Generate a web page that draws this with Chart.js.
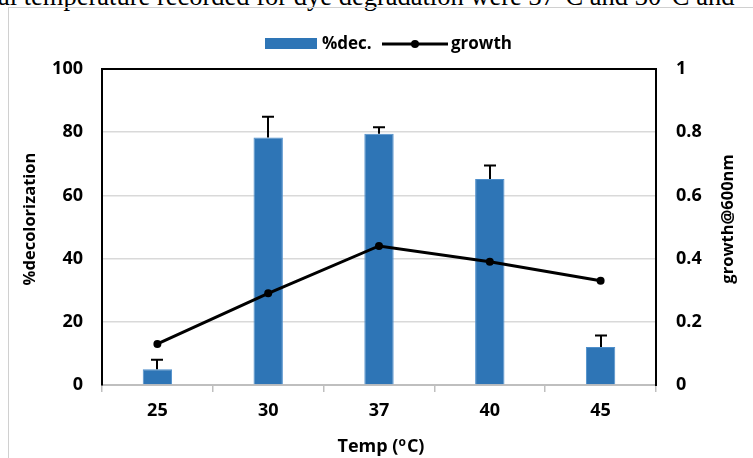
<!DOCTYPE html>
<html>
<head>
<meta charset="utf-8">
<script src="https://cdn.jsdelivr.net/npm/chart.js@4/dist/chart.umd.min.js"></script>
<style>
  html, body { margin: 0; padding: 0; background: #fff; overflow: hidden; width: 753px; height: 458px; }
  #frame { position: absolute; left: 8px; top: 7px; width: 900px; height: 600px; border-left: 1px solid #d0d0d0; border-top: 1px solid #d0d0d0; }
  #txt { position: absolute; left: -2px; top: -16px; font-family: "Liberation Serif", serif; font-size: 26.5px; line-height: 25px; white-space: nowrap; color: #000; }
  #c { position: absolute; left: 0; top: 0; }
</style>
</head>
<body>
<div id="txt">al temperature recorded for dye degradation were 37°C and 30°C and</div>
<div id="frame"></div>
<canvas id="c" width="753" height="458"></canvas>
<script>
const categories = ["25", "30", "37", "40", "45"];
const decolorization = [5.0, 78.3, 79.5, 65.2, 12.0];
const decolorizationErr = [3.0, 6.6, 2.1, 4.3, 3.7];
const growth = [0.13, 0.29, 0.44, 0.39, 0.33];
const leftTicks = [0, 20, 40, 60, 80, 100];
const rightTicks = [0, 0.2, 0.4, 0.6, 0.8, 1];
const seriesNames = ["%dec.", "growth"];
const axisTitles = { x: ["Temp (", "o", "C)"], y: "%decolorization", y1: "growth@600nm" };

const FONT = "'Open Sans', Lato, sans-serif";
const BLUE = "#2E75B6";

const PAD = { left: 10, right: 10, top: 69, bottom: 10 };
const AREA = { left: 102, right: 656, bottom: 385 };

const errorBars = {
  id: "errorBars",
  afterDatasetsDraw(chart) {
    const meta = chart.getDatasetMeta(1);
    const ys = chart.scales.y;
    const ctx = chart.ctx;
    ctx.save();
    ctx.strokeStyle = "#000";
    ctx.lineWidth = 2;
    meta.data.forEach((bar, i) => {
      const top = ys.getPixelForValue(decolorization[i] + decolorizationErr[i]);
      const x = Math.round(bar.x);
      ctx.beginPath();
      ctx.moveTo(x, bar.y);
      ctx.lineTo(x, top);
      ctx.moveTo(x - 6, top);
      ctx.lineTo(x + 6, top);
      ctx.stroke();
    });
    ctx.restore();
  }
};

const extras = {
  id: "extras",
  afterDraw(chart) {
    const ctx = chart.ctx;
    ctx.save();
    ctx.fillStyle = "#000";
    ctx.font = "bold 16.5px " + FONT;
    ctx.textAlign = "center";
    ctx.textBaseline = "middle";
    ctx.save();
    ctx.translate(30, 219);
    ctx.rotate(-Math.PI / 2);
    ctx.fillText(axisTitles.y, 0, 0);
    ctx.restore();
    ctx.save();
    ctx.translate(728, 219);
    ctx.rotate(-Math.PI / 2);
    ctx.fillText(axisTitles.y1, 0, 0);
    ctx.restore();

    // bottom title with superscript o
    const big = "bold 18px " + FONT, small = "bold 12px " + FONT;
    ctx.textAlign = "left";
    ctx.textBaseline = "alphabetic";
    ctx.font = big;
    const w1 = ctx.measureText(axisTitles.x[0]).width;
    const w3 = ctx.measureText(axisTitles.x[2]).width;
    ctx.font = small;
    const w2 = ctx.measureText(axisTitles.x[1]).width + 1;
    let x0 = 381 - (w1 + w2 + w3) / 2;
    const base = 452;
    ctx.font = big;
    ctx.fillText(axisTitles.x[0], x0, base);
    ctx.font = small;
    ctx.fillText(axisTitles.x[1], x0 + w1, base - 6);
    ctx.font = big;
    ctx.fillText(axisTitles.x[2], x0 + w1 + w2, base);

    const ly = 44;
    ctx.textBaseline = "middle";
    ctx.fillStyle = chart.data.datasets[1].backgroundColor;
    ctx.fillRect(265, 38, 52, 11);
    ctx.fillStyle = "#000";
    ctx.font = "bold 17px " + FONT;
    ctx.fillText(chart.data.datasets[1].label, 322, ly);
    ctx.strokeStyle = "#000";
    ctx.lineWidth = 3;
    ctx.beginPath();
    ctx.moveTo(382, ly);
    ctx.lineTo(448, ly);
    ctx.stroke();
    ctx.beginPath();
    ctx.arc(415, ly, 4, 0, Math.PI * 2);
    ctx.fill();
    ctx.fillText(chart.data.datasets[0].label, 451, ly);
    ctx.restore();
  }
};

new Chart(document.getElementById("c"), {
  data: {
    labels: categories,
    datasets: [
      {
        type: "line",
        label: seriesNames[1],
        data: growth,
        yAxisID: "y1",
        borderColor: "#000",
        backgroundColor: "#000",
        borderWidth: 3,
        pointRadius: 4,
        pointBorderWidth: 0,
        pointBackgroundColor: "#000",
        tension: 0,
        order: 0
      },
      {
        type: "bar",
        label: seriesNames[0],
        data: decolorization,
        yAxisID: "y",
        backgroundColor: BLUE,
        borderColor: "#4F8FCB",
        borderWidth: 1,
        categoryPercentage: 1,
        barPercentage: 0.265,
        order: 1
      }
    ]
  },
  options: {
    responsive: false,
    animation: false,
    devicePixelRatio: 1,
    layout: { padding: PAD },
    plugins: { legend: { display: false }, tooltip: { enabled: false } },
    scales: {
      x: {
        offset: true,
        afterFit: s => { s.height = 458 - AREA.bottom - PAD.bottom; },
        grid: { drawOnChartArea: false, drawTicks: true, tickLength: 7, color: "#bfbfbf", lineWidth: 1.5, offset: true },
        border: { color: "#bfbfbf", width: 2 },
        ticks: { color: "#000", font: { family: FONT, size: 18, weight: "bold" }, padding: 8 }
      },
      y: {
        position: "left",
        min: 0, max: 100,
        afterFit: s => { s.width = AREA.left - PAD.left; },
        afterBuildTicks: s => { s.ticks = leftTicks.map(v => ({ value: v })); },
        grid: {
          drawTicks: false,
          color: c => c.tick.value === 100 ? "#000" : (c.tick.value === 0 ? "#bfbfbf" : "#d9d9d9"),
          lineWidth: c => c.tick.value === 100 ? 2 : 1.5
        },
        border: { color: "#000", width: 2 },
        ticks: { color: "#000", font: { family: FONT, size: 18, weight: "bold" }, padding: 19 }
      },
      y1: {
        position: "right",
        min: 0, max: 1,
        afterFit: s => { s.width = 753 - PAD.right - AREA.right; },
        afterBuildTicks: s => { s.ticks = rightTicks.map(v => ({ value: v })); },
        grid: { drawOnChartArea: false, drawTicks: false },
        border: { color: "#000", width: 2 },
        ticks: { color: "#000", font: { family: FONT, size: 18, weight: "bold" }, padding: 20,
                 callback: v => String(v) }
      }
    }
  },
  plugins: [errorBars, extras]
});
</script>
</body>
</html>
